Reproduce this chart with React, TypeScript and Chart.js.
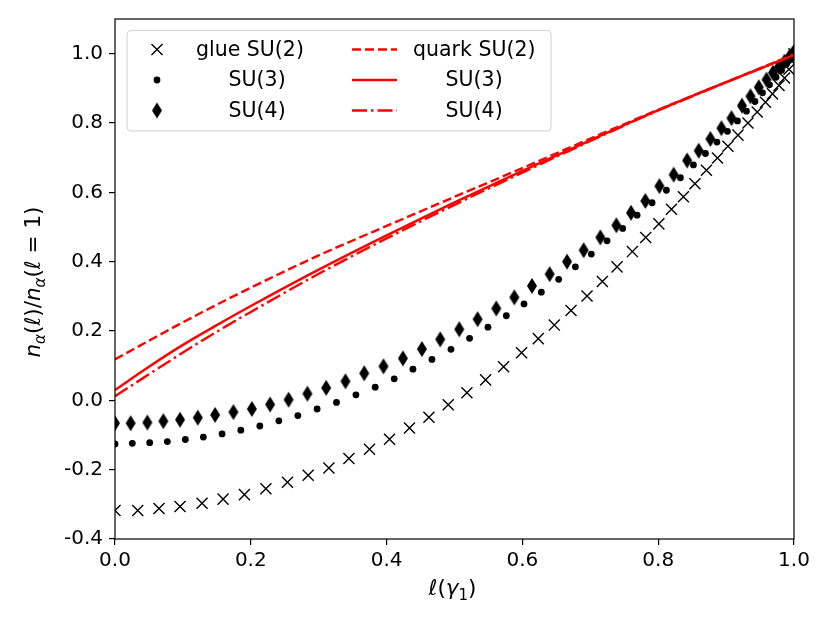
import { useEffect, useRef } from "react";
import { Chart, registerables } from "chart.js";

Chart.register(...registerables);

// glue occupation, crosses: SU(2)
const glueSU2X = [
  0, 0.0335, 0.0648, 0.0958, 0.1282, 0.1592, 0.1906, 0.2222, 0.254, 0.2845,
  0.315, 0.3445, 0.3748, 0.4043, 0.4337, 0.4623, 0.4908, 0.5183, 0.5458, 0.5723,
  0.5988, 0.6234, 0.647, 0.6716, 0.6952, 0.7178, 0.7394, 0.762, 0.7816, 0.801,
  0.8195, 0.8371, 0.8541, 0.871, 0.8873, 0.9027, 0.9175, 0.9322, 0.9458, 0.958,
  0.9683, 0.9779, 0.986, 0.9926, 0.9971, 1.0,
];
const glueSU2Y = [
  -0.318, -0.318, -0.312, -0.306, -0.297, -0.285, -0.272, -0.255, -0.236, -0.216,
  -0.195, -0.168, -0.141, -0.112, -0.08, -0.049, -0.013, 0.022, 0.059, 0.097,
  0.137, 0.178, 0.217, 0.259, 0.301, 0.343, 0.385, 0.429, 0.47, 0.509,
  0.551, 0.587, 0.625, 0.664, 0.699, 0.733, 0.765, 0.8, 0.832, 0.86,
  0.884, 0.908, 0.93, 0.955, 0.978, 1.0,
];

// glue SU(3), dots
const glueSU3X = [
  0, 0.0255, 0.0511, 0.0771, 0.1036, 0.1301, 0.1577, 0.1853, 0.2133, 0.2413,
  0.2693, 0.2977, 0.3262, 0.3548, 0.3832, 0.4112, 0.4388, 0.4668, 0.4948, 0.5222,
  0.5493, 0.5763, 0.6024, 0.6279, 0.6534, 0.678, 0.7015, 0.7247, 0.7477, 0.7689,
  0.791, 0.8121, 0.8327, 0.8519, 0.8696, 0.8865, 0.902, 0.9167, 0.93, 0.9425,
  0.9536, 0.9639, 0.9735, 0.9816, 0.989, 0.9948, 0.9993,
];
const glueSU3Y = [
  -0.126, -0.124, -0.122, -0.119, -0.113, -0.106, -0.097, -0.086, -0.074, -0.059,
  -0.044, -0.025, -0.006, 0.016, 0.038, 0.062, 0.09, 0.118, 0.147, 0.179,
  0.211, 0.244, 0.278, 0.312, 0.349, 0.385, 0.422, 0.46, 0.496, 0.534,
  0.57, 0.606, 0.642, 0.679, 0.712, 0.745, 0.776, 0.806, 0.834, 0.862,
  0.887, 0.91, 0.932, 0.952, 0.97, 0.986, 0.998,
];

// glue SU(4), thin diamonds
const glueSU4X = [
  0, 0.0231, 0.0476, 0.0712, 0.0958, 0.1219, 0.1474, 0.1744, 0.2015, 0.2284,
  0.2557, 0.2834, 0.311, 0.3394, 0.367, 0.3954, 0.424, 0.452, 0.479, 0.507,
  0.534, 0.5615, 0.5881, 0.6141, 0.6401, 0.6657, 0.6902, 0.7148, 0.7384, 0.76,
  0.7811, 0.8018, 0.8228, 0.8426, 0.8597, 0.8769, 0.8931, 0.9079, 0.9234, 0.9359,
  0.9481, 0.9595, 0.969, 0.9779, 0.986, 0.9926, 0.9978, 1.0,
];
const glueSU4Y = [
  -0.066, -0.066, -0.064, -0.06, -0.056, -0.05, -0.042, -0.034, -0.025, -0.012,
  0.002, 0.019, 0.036, 0.055, 0.078, 0.098, 0.121, 0.148, 0.176, 0.205,
  0.234, 0.265, 0.297, 0.33, 0.364, 0.4, 0.433, 0.47, 0.505, 0.541,
  0.575, 0.618, 0.651, 0.692, 0.72, 0.754, 0.785, 0.814, 0.85, 0.877,
  0.903, 0.925, 0.945, 0.962, 0.977, 0.989, 0.998, 1.005,
];

// quark curves, shared ℓ grid
const quarkX = [0, 0.05, 0.1, 0.15, 0.2, 0.3, 0.4, 0.5, 0.6, 0.7, 0.8, 0.9, 1.0];
const quarkSU2Y = [0.118, 0.172, 0.225, 0.276, 0.325, 0.418, 0.503, 0.587, 0.67, 0.755, 0.838, 0.918, 0.998];
const quarkSU3Y = [0.03, 0.097, 0.16, 0.217, 0.272, 0.377, 0.476, 0.571, 0.662, 0.75, 0.837, 0.918, 0.996];
const quarkSU4Y = [0.012, 0.075, 0.138, 0.198, 0.255, 0.365, 0.467, 0.564, 0.657, 0.748, 0.836, 0.917, 0.996];

const xTicks = [0, 0.2, 0.4, 0.6, 0.8, 1.0];
const yTicks = [-0.4, -0.2, 0, 0.2, 0.4, 0.6, 0.8, 1.0];

const FONT = "DejaVu Sans";
const RED = "#ff0000";

const pts = (xs: number[], ys: number[]) => xs.map((x, i) => ({ x, y: ys[i] }));

// matplotlib's thin diamond marker
function makeDiamond(w: number, h: number) {
  const c = document.createElement("canvas");
  c.width = w + 2;
  c.height = h + 2;
  const g = c.getContext("2d")!;
  g.fillStyle = "#000";
  g.beginPath();
  g.moveTo(c.width / 2, 1);
  g.lineTo(c.width - 1, c.height / 2);
  g.lineTo(c.width / 2, c.height - 1);
  g.lineTo(1, c.height / 2);
  g.closePath();
  g.fill();
  return c;
}

type Piece = { t: string; it?: boolean; sub?: boolean };

// draws a mathtext-like label centred on cx, baseline at by
function drawMath(ctx: CanvasRenderingContext2D, pieces: Piece[], cx: number, by: number, size: number) {
  const fontOf = (p: Piece) => `${p.it ? "italic " : ""}${p.sub ? size * 0.7 : size}px "${FONT}"`;
  const widths = pieces.map((p) => {
    ctx.font = fontOf(p);
    return ctx.measureText(p.t).width;
  });
  let x = cx - widths.reduce((a, b) => a + b, 0) / 2;
  ctx.textAlign = "left";
  ctx.textBaseline = "alphabetic";
  ctx.fillStyle = "#000";
  pieces.forEach((p, i) => {
    ctx.font = fontOf(p);
    ctx.fillText(p.t, x, by + (p.sub ? size * 0.22 : 0));
    x += widths[i];
  });
}

const yTitle: Piece[] = [
  { t: "n", it: true }, { t: "α", it: true, sub: true }, { t: "(" }, { t: "ℓ", it: true }, { t: ")" },
  { t: "/" },
  { t: "n", it: true }, { t: "α", it: true, sub: true }, { t: "(" }, { t: "ℓ", it: true }, { t: " = " }, { t: "1" }, { t: ")" },
];
const xTitle: Piece[] = [
  { t: "ℓ", it: true }, { t: "(" }, { t: "γ", it: true }, { t: "1", sub: true }, { t: ")" },
];

const framePlugin = {
  id: "frame",
  afterDatasetsDraw(chart: any) {
    const { ctx, chartArea: a } = chart;
    ctx.save();
    ctx.strokeStyle = "#000";
    ctx.lineWidth = 1.2;
    ctx.strokeRect(a.left, a.top, a.right - a.left, a.bottom - a.top);
    ctx.restore();
  },
};

const titlesPlugin = {
  id: "mathTitles",
  afterDraw(chart: any) {
    const { ctx, chartArea: a } = chart;
    ctx.save();
    drawMath(ctx, xTitle, (a.left + a.right) / 2 - 2, 595, 21.5);
    ctx.translate(40, (a.top + a.bottom) / 2 + 3);
    ctx.rotate(-Math.PI / 2);
    drawMath(ctx, yTitle, 0, 0, 21.5);
    ctx.restore();
  },
};

const legendPlugin = {
  id: "twoColLegend",
  afterDraw(chart: any) {
    const { ctx } = chart;
    const sets = chart.data.datasets;
    ctx.save();
    // frame
    const bx = 127, by = 30.5, bw = 424, bh = 100.5, r = 4;
    ctx.beginPath();
    ctx.roundRect(bx, by, bw, bh, r);
    ctx.fillStyle = "rgba(255,255,255,0.8)";
    ctx.fill();
    ctx.strokeStyle = "#d0d0d0";
    ctx.lineWidth = 1;
    ctx.stroke();

    const rows = [49.5, 80, 110.5];
    ctx.font = `20.5px "${FONT}"`;
    ctx.textBaseline = "middle";
    ctx.textAlign = "left";
    sets.forEach((ds: any, i: number) => {
      const col = i < 3 ? 0 : 1;
      const y = rows[i % 3];
      ctx.fillStyle = "#000";
      ctx.fillText(ds.label, col === 0 ? 196 : 413, y + 1);
      if (col === 0) {
        const mx = 157;
        if (ds.pointStyle === "crossRot") {
          const d = ds.pointRadius * Math.SQRT1_2;
          ctx.strokeStyle = "#000";
          ctx.lineWidth = ds.pointBorderWidth;
          ctx.beginPath();
          ctx.moveTo(mx - d, y - d);
          ctx.lineTo(mx + d, y + d);
          ctx.moveTo(mx - d, y + d);
          ctx.lineTo(mx + d, y - d);
          ctx.stroke();
        } else if (ds.pointStyle === "circle") {
          ctx.beginPath();
          ctx.arc(mx, y, ds.pointRadius, 0, Math.PI * 2);
          ctx.fill();
        } else {
          const img = ds.pointStyle as HTMLCanvasElement;
          ctx.drawImage(img, mx - img.width / 2, y - img.height / 2);
        }
      } else {
        ctx.strokeStyle = ds.borderColor;
        ctx.lineWidth = ds.borderWidth;
        ctx.setLineDash(ds.borderDash || []);
        ctx.beginPath();
        ctx.moveTo(352, y);
        ctx.lineTo(397, y);
        ctx.stroke();
        ctx.setLineDash([]);
      }
    });
    ctx.restore();
  },
};

export default function App() {
  const canvasRef = useRef<HTMLCanvasElement | null>(null);
  const chartRef = useRef<Chart | null>(null);

  useEffect(() => {
    if (!canvasRef.current) return;
    if (chartRef.current) chartRef.current.destroy();

    const diamond = makeDiamond(10, 16);
    const markerBase = { showLine: false, order: 1, pointBorderColor: "#000", pointBackgroundColor: "#000" };
    const lineBase = { showLine: true, order: 0, pointRadius: 0, borderColor: RED, borderWidth: 2.4, cubicInterpolationMode: "monotone" as const };

    chartRef.current = new Chart(canvasRef.current, {
      type: "scatter",
      data: {
        datasets: [
          { ...markerBase, label: "glue SU(2)", data: pts(glueSU2X, glueSU2Y), pointStyle: "crossRot", pointRadius: 7.8, pointBorderWidth: 1.4 },
          { ...markerBase, label: "     SU(3)", data: pts(glueSU3X, glueSU3Y), pointStyle: "circle", pointRadius: 3.4, pointBorderWidth: 0 },
          { ...markerBase, label: "     SU(4)", data: pts(glueSU4X, glueSU4Y), pointStyle: diamond, pointRadius: 8 },
          { ...lineBase, label: "quark SU(2)", data: pts(quarkX, quarkSU2Y), borderDash: [9, 4] },
          { ...lineBase, label: "     SU(3)", data: pts(quarkX, quarkSU3Y) },
          { ...lineBase, label: "     SU(4)", data: pts(quarkX, quarkSU4Y), borderDash: [15, 4, 2.5, 4] },
        ] as any,
      },
      options: {
        responsive: false,
        animation: false,
        events: [],
        layout: { padding: { left: 0, top: 19, right: 36, bottom: 0 } },
        plugins: { legend: { display: false }, tooltip: { enabled: false } },
        scales: {
          x: {
            type: "linear",
            min: 0,
            max: 1,
            afterFit: (s: any) => { s.height = 84; },
            afterBuildTicks: (s: any) => { s.ticks = xTicks.map((value) => ({ value })); },
            border: { display: false },
            grid: { display: true, drawOnChartArea: false, drawTicks: true, tickLength: 6, color: "#000", lineWidth: 1.2 },
            ticks: { color: "#000", padding: 4, font: { family: FONT, size: 20 }, callback: (v: any) => Number(v).toFixed(1) },
          },
          y: {
            type: "linear",
            min: -0.4,
            max: 1.1,
            afterFit: (s: any) => { s.width = 115; },
            afterBuildTicks: (s: any) => { s.ticks = yTicks.map((value) => ({ value })); },
            border: { display: false },
            grid: { display: true, drawOnChartArea: false, drawTicks: true, tickLength: 6, color: "#000", lineWidth: 1.2 },
            ticks: { color: "#000", padding: 6, font: { family: FONT, size: 20 }, callback: (v: any) => Number(v).toFixed(1) },
          },
        },
      },
      plugins: [framePlugin, titlesPlugin, legendPlugin],
    });

    return () => {
      chartRef.current?.destroy();
      chartRef.current = null;
    };
  }, []);

  return (
    <div style={{ position: "fixed", left: 0, top: 0, width: 830, height: 623, background: "#fff" }}>
      <canvas ref={canvasRef} width={830} height={623} />
    </div>
  );
}
